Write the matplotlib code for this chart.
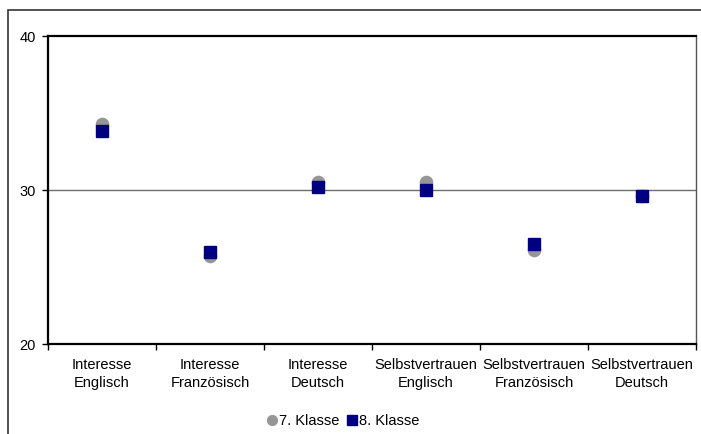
import matplotlib.pyplot as plt
from matplotlib.patches import Rectangle

categories = ["Interesse\nEnglisch", "Interesse\nFranzösisch", "Interesse\nDeutsch",
              "Selbstvertrauen\nEnglisch", "Selbstvertrauen\nFranzösisch", "Selbstvertrauen\nDeutsch"]
klasse7 = [34.3, 25.7, 30.5, 30.5, 26.1, 29.6]
klasse8 = [33.8, 26.0, 30.2, 30.0, 26.5, 29.6]
y_ticks = [20, 30, 40]

plt.rcParams['font.family'] = ['Liberation Sans', 'DejaVu Sans']

fig = plt.figure(figsize=(7.01, 4.34), dpi=100)
W, H = 701, 434
ax = fig.add_axes([48 / W, 1 - 344 / H, 648 / W, 308 / H])

# outer chart frame (runs off the right and bottom edge)
fig.patches.append(Rectangle((8 / W, -0.01), 1.0, 1 - 10 / H + 0.01, transform=fig.transFigure,
                             fill=False, edgecolor='#333333', linewidth=1.2))

x = list(range(len(categories)))
ax.plot(x, klasse7, linestyle='none', marker='o', markersize=8.8, color='#969696',
        markeredgecolor='#969696', label='7. Klasse', zorder=3)
ax.plot(x, klasse8, linestyle='none', marker='s', markersize=8.3, color='#000080',
        markeredgecolor='#000080', label='8. Klasse', zorder=4)

ax.set_xlim(-0.5, len(categories) - 0.5)
ax.set_ylim(20, 40)
ax.set_yticks(y_ticks)
ax.set_yticklabels([str(v) for v in y_ticks], fontsize=10.5)
ax.axhline(30, color='#6e6e6e', linewidth=1.0, zorder=1)

ax.set_xticks([i - 0.5 for i in range(len(categories) + 1)])
ax.set_xticklabels([])
ax.set_xticks(x, minor=True)
ax.set_xticklabels(categories, minor=True, fontsize=10.5, linespacing=1.35)
ax.tick_params(axis='x', which='minor', length=0, pad=10)
ax.tick_params(axis='x', which='major', length=4, width=1, direction='out')
ax.tick_params(axis='y', length=4, width=1, direction='out', pad=5)

for s in ['left', 'bottom', 'top']:
    ax.spines[s].set_color('black')
    ax.spines[s].set_linewidth(1.6)
ax.spines['right'].set_color('#555555')
ax.spines['right'].set_linewidth(1.0)

fig.legend(loc='center', bbox_to_anchor=(343 / W, 1 - 421 / H), ncol=2, frameon=False,
           fontsize=10.5, handletextpad=0.15, columnspacing=0.5, handlelength=0.7,
           markerscale=0.8)

fig.savefig('out.png', dpi=100)
